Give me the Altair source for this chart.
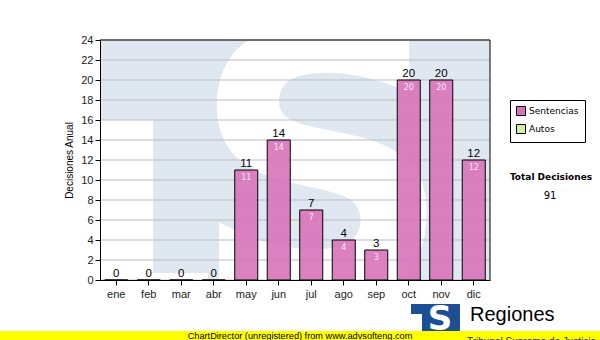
import altair as alt
import pandas as pd

# ---- data ----
months = ["ene", "feb", "mar", "abr", "may", "jun", "jul", "ago", "sep", "oct", "nov", "dic"]
sentencias = [0, 0, 0, 0, 11, 14, 7, 4, 3, 20, 20, 12]
series_names = ["Sentencias", "Autos"]
series_colors = ["#d873b9", "#d6eca0"]
y_ticks = [0, 2, 4, 6, 8, 10, 12, 14, 16, 18, 20, 22, 24]
y_title = "Decisiones Anual"
total_label = "Total Decisiones"
footer_text = "ChartDirector (unregistered) from www.advsofteng.com"
brand_text = "Regiones"
brand_sub = "Tribunal Supremo de Justicia"

df = pd.DataFrame({"mes": months, "valor": sentencias, "serie": "Sentencias"})
grid_df = pd.DataFrame({"valor": y_ticks})
one = pd.DataFrame({"k": [0]})

W, H = 390, 240
WATER = "#dfe8f1"

x_enc = alt.X("mes:N", sort=months,
              scale=alt.Scale(paddingInner=0.292, paddingOuter=0.146),
              axis=alt.Axis(title=None, labelAngle=0, tickSize=5, tickColor="black",
                            domainColor="black", labelPadding=3, labelFont="Liberation Sans",
                            labelFontSize=11, labelColor="#222222", zindex=1))
y_scale = alt.Scale(domain=[0, 24], nice=False)
y_axis = alt.Axis(values=y_ticks, grid=False, title=y_title, tickSize=5,
                  tickColor="black", domainColor="black", labelPadding=2,
                  labelFont="Liberation Sans", labelFontSize=11, labelColor="#222222",
                  titleFont="Liberation Sans", titleFontSize=10, titleFontWeight="normal",
                  titleColor="black", titlePadding=6, zindex=1)
y_enc = alt.Y("valor:Q", scale=y_scale, axis=y_axis)

# watermark: white areas over light-blue plot background
wm_left = alt.Chart(one).mark_rect(color="white").encode(
    x=alt.value(0), x2=alt.value(53), y=alt.value(80), y2=alt.value(240))
wm_strip = alt.Chart(one).mark_rect(color="white").encode(
    x=alt.value(53), x2=alt.value(108), y=alt.value(233), y2=alt.value(240))
wm_s = alt.Chart(one).mark_text(text="S", font="DejaVu Sans", fontWeight="bold", fontSize=365,
                                color="white", align="center", baseline="alphabetic",
                                clip=True).encode(x=alt.value(222), y=alt.value(254))

grid = alt.Chart(grid_df).mark_rule(color="#bdbdbd", strokeWidth=1).encode(y=y_enc)

bars = alt.Chart(df).mark_bar(stroke="black", strokeWidth=1, fillOpacity=0.9).encode(
    x=x_enc, y=y_enc,
    color=alt.Color("serie:N", scale=alt.Scale(domain=series_names, range=series_colors),
                    legend=alt.Legend(title=None, orient="none", legendX=410, legendY=60,
                                      strokeColor="black", fillColor="white", padding=6,
                                      symbolType="square", symbolSize=81,
                                      symbolStrokeColor="black", symbolStrokeWidth=1,
                                      symbolOpacity=1, labelFont="DejaVu Sans",
                                      labelFontSize=9, labelColor="black", labelOffset=3,
                                      rowPadding=4, cornerRadius=0)))

top_labels = alt.Chart(df).mark_text(font="Liberation Sans", fontSize=11.5, color="black",
                                     baseline="alphabetic", dy=-3).encode(
    x=alt.X("mes:N", sort=months), y=y_enc, text="valor:Q")

in_labels = alt.Chart(df).transform_filter("datum.valor > 0").mark_text(
    font="DejaVu Sans", fontSize=8, color="#fbe6f4", baseline="alphabetic", dy=10).encode(
    x=alt.X("mes:N", sort=months), y=y_enc, text="valor:Q")

top_rule = alt.Chart(one).mark_rule(color="black").encode(y=alt.value(0))
right_rule = alt.Chart(one).mark_rule(color="black").encode(x=alt.value(W))

total_title = alt.Chart(one).mark_text(text=total_label, font="DejaVu Sans", fontWeight="bold",
                                       fontSize=9, color="black").encode(
    x=alt.value(451), y=alt.value(137))
total_val = alt.Chart(df).transform_aggregate(total="sum(valor)").mark_text(
    font="DejaVu Sans", fontSize=10, color="black").encode(
    x=alt.value(450), y=alt.value(156), text="total:Q")

footer_band = alt.Chart(one).mark_rect(color="#ffff00").encode(
    x=alt.value(-100), x2=alt.value(500), y=alt.value(291), y2=alt.value(300))
footer = alt.Chart(one).mark_text(text=footer_text, font="Liberation Sans", fontSize=9.2,
                                  color="black", baseline="alphabetic").encode(
    x=alt.value(200), y=alt.value(298.5))
logo_box = alt.Chart(one).mark_rect(color="#1d4f95").encode(
    x=alt.value(311), x2=alt.value(360), y=alt.value(264), y2=alt.value(291))
logo_notch = alt.Chart(one).mark_rect(color="white").encode(
    x=alt.value(311), x2=alt.value(322), y=alt.value(274), y2=alt.value(291))
logo_s = alt.Chart(one).mark_text(text="S", font="DejaVu Sans", fontWeight="bold", fontSize=34,
                                  color="white", baseline="alphabetic").encode(
    x=alt.value(340), y=alt.value(290))
brand = alt.Chart(one).mark_text(text=brand_text, font="Liberation Sans", fontSize=20,
                                 color="black", align="left", baseline="alphabetic").encode(
    x=alt.value(370), y=alt.value(281))
brand2 = alt.Chart(one).mark_text(text=brand_sub, font="Liberation Sans", fontSize=10,
                                  color="#222222", align="left", baseline="alphabetic").encode(
    x=alt.value(367), y=alt.value(305))

chart = alt.layer(
    wm_left, wm_strip, wm_s, grid, bars, top_labels, in_labels, top_rule, right_rule,
    total_title, total_val, footer_band, footer, logo_box, logo_notch, logo_s, brand, brand2
).properties(
    width=W, height=H,
    autosize=alt.AutoSizeParams(type="none"),
    padding={"left": 100, "top": 40, "right": 110, "bottom": 60},
    background="white",
).configure_view(fill=WATER, stroke=None)

chart.save("out.html", embed_options={"renderer": "svg", "actions": False})
